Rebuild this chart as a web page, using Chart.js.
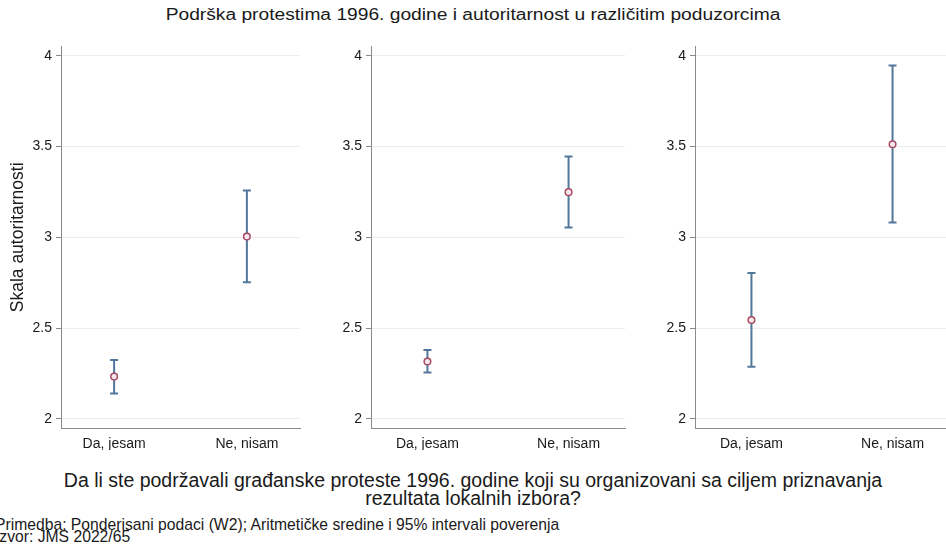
<!DOCTYPE html>
<html>
<head>
<meta charset="utf-8">
<script src="https://cdn.jsdelivr.net/npm/chart.js@4.4.0/dist/chart.umd.min.js"></script>
<style>
  html, body { margin: 0; padding: 0; background: #fff; width: 946px; height: 547px; overflow: hidden; position: relative; font-family: "Liberation Sans", Arial, sans-serif; }
  canvas { position: absolute; top: 0; }
  .txt { position: absolute; color: #1a1a1a; white-space: nowrap; }
  #title { top: 7px; left: 0; width: 946px; text-align: center; font-size: 16px; line-height: 16px; transform: scaleX(1.2); transform-origin: 473px 0; }
  #xtitle { top: 471px; left: 0; width: 946px; text-align: center; font-size: 19.5px; line-height: 18.3px; }
  #note1 { top: 519px; left: -5px; font-size: 15.7px; line-height: 12.3px; }
  #note2 { top: 531px; left: -5px; font-size: 15.7px; line-height: 12.3px; }
</style>
</head>
<body>
<div class="txt" id="title">Podrška protestima 1996. godine i autoritarnost u različitim poduzorcima</div>
<canvas id="c1" width="306" height="450" style="left:0px"></canvas>
<canvas id="c2" width="305" height="450" style="left:326px"></canvas>
<canvas id="c3" width="305" height="450" style="left:650px"></canvas>
<div class="txt" id="xtitle">Da li ste podržavali građanske proteste 1996. godine koji su organizovani sa ciljem priznavanja<br>rezultata lokalnih izbora?</div>
<div class="txt" id="note1">Primedba: Ponderisani podaci (W2); Aritmetičke sredine i 95% intervali poverenja</div>
<div class="txt" id="note2">Izvor: JMS 2022/65</div>
<script>
// ---- data ----
const categories = ['Da, jesam', 'Ne, nisam'];
const tickValues = [2, 2.5, 3, 3.5, 4];
const tickLabels = ['2', '2.5', '3', '3.5', '4'];
const yAxisTitle = 'Skala autoritarnosti';

const panel1Mean = [2.233, 3.004];
const panel1Low  = [2.140, 2.753];
const panel1High = [2.325, 3.258];

const panel2Mean = [2.316, 3.249];
const panel2Low  = [2.255, 3.054];
const panel2High = [2.380, 3.445];

const panel3Mean = [2.545, 3.513];
const panel3Low  = [2.287, 3.082];
const panel3High = [2.803, 3.947];

// ---- styling ----
const barColor = '#52779a';
const markerColor = '#a84a64';
const markerFill = '#f6e8ec';
const axisColor = '#8a8a8a';
const gridColor = '#ececec';
const textColor = '#1a1a1a';
const FONT = '"Liberation Sans", Arial, sans-serif';

function makePanel(id, means, lows, highs, yWidth, showTitle) {
  const datasets = [{
    data: means.map((m, i) => ({ x: i, y: m })),
    showLine: false,
    pointStyle: 'circle',
    pointRadius: 3.3,
    pointBorderWidth: 1.5,
    pointBorderColor: markerColor,
    pointBackgroundColor: markerFill,
    order: 0
  }];
  categories.forEach((c, i) => {
    datasets.push({
      data: [{ x: i, y: lows[i] }, { x: i, y: highs[i] }],
      showLine: true,
      borderColor: barColor,
      borderWidth: 2,
      pointStyle: 'line',
      pointRadius: 4,
      pointBorderWidth: 2,
      pointBorderColor: barColor,
      order: 1
    });
  });
  return new Chart(document.getElementById(id), {
    type: 'scatter',
    data: { datasets },
    options: {
      responsive: false,
      animation: false,
      devicePixelRatio: 1,
      layout: { padding: { top: 46.7, right: 6, bottom: 0, left: 0 } },
      plugins: { legend: { display: false }, tooltip: { enabled: false } },
      scales: {
        x: {
          type: 'linear', min: -0.4, max: 1.4,
          afterBuildTicks: s => { s.ticks = categories.map((c, i) => ({ value: i })); },
          afterFit: s => { s.height = 22; },
          ticks: { callback: v => categories[v], font: { family: FONT, size: 14 }, color: textColor, padding: 0, maxRotation: 0 },
          grid: { display: false },
          border: { display: true, color: axisColor, width: 1 }
        },
        y: {
          min: 1.95, max: 4.05,
          afterBuildTicks: s => { s.ticks = tickValues.map(v => ({ value: v })); },
          afterFit: s => { s.width = yWidth; },
          ticks: { callback: (v, idx) => tickLabels[idx], font: { family: FONT, size: 14 }, color: textColor, padding: 4 },
          grid: { color: gridColor, lineWidth: 1, tickLength: 5, tickColor: axisColor, drawTicks: true },
          border: { display: true, color: axisColor, width: 1 },
          title: { display: showTitle, text: yAxisTitle, font: { family: FONT, size: 17.5 }, color: textColor, padding: { top: 8, bottom: 0 } }
        }
      }
    }
  });
}

makePanel('c1', panel1Mean, panel1Low, panel1High, 61, true);
makePanel('c2', panel2Mean, panel2Low, panel2High, 45, false);
makePanel('c3', panel3Mean, panel3Low, panel3High, 45, false);
</script>
</body>
</html>
